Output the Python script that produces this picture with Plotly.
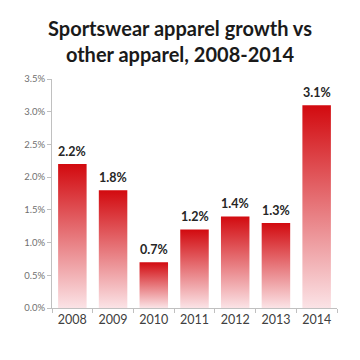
import plotly.graph_objects as go

years = ["2008", "2009", "2010", "2011", "2012", "2013", "2014"]
growth = [0.022, 0.018, 0.007, 0.012, 0.014, 0.013, 0.031]
labels = ["2.2%", "1.8%", "0.7%", "1.2%", "1.4%", "1.3%", "3.1%"]
y_ticks = [0, 0.005, 0.01, 0.015, 0.02, 0.025, 0.03, 0.035]

half = 0.35
fig = go.Figure()
for i, v in enumerate(growth):
    fig.add_trace(go.Scatter(
        x=[i - half, i + half, i + half, i - half, i - half],
        y=[0, 0, v, v, 0],
        mode="lines", line=dict(width=0), fill="toself",
        fillgradient=dict(type="vertical",
                          colorscale=[[0, "#fbe3e6"], [1, "#d20a0f"]]),
        hoverinfo="skip", showlegend=False))
    fig.add_annotation(x=i, y=v, text="<b>" + labels[i] + "</b>", showarrow=False,
                       yanchor="bottom", yshift=3,
                       font=dict(family="Lato", size=12.5, color="#262626"))

fig.update_layout(
    width=360, height=360,
    margin=dict(l=52, r=23, t=79, b=52),
    paper_bgcolor="white", plot_bgcolor="white",
    title=dict(text="Sportswear apparel growth vs<br>other apparel, 2008-2014",
               x=0.5, xanchor="center", y=0.9, yanchor="middle",
               font=dict(family="Lato", size=20, color="#1a1a1a", weight="bold")),
    showlegend=False,
)
fig.update_xaxes(range=[-0.5, 6.5], tickvals=list(range(len(years))), ticktext=years,
                 ticks="", showgrid=False, zeroline=False,
                 showline=True, linecolor="#c0c0c0", linewidth=1,
                 tickfont=dict(family="Lato", size=12.5, color="#404040"),
                 minor=dict(tick0=-0.5, dtick=1, ticks="outside", ticklen=4,
                            tickcolor="#c0c0c0", showgrid=False))
fig.update_yaxes(range=[0, 0.035], tickvals=y_ticks, tickformat=".1%",
                 ticks="outside", ticklen=4, tickcolor="#c0c0c0",
                 showgrid=False, zeroline=False,
                 showline=True, linecolor="#c0c0c0", linewidth=1,
                 tickfont=dict(family="Lato", size=9.5, color="#707070"))

fig.write_html("out.html")
